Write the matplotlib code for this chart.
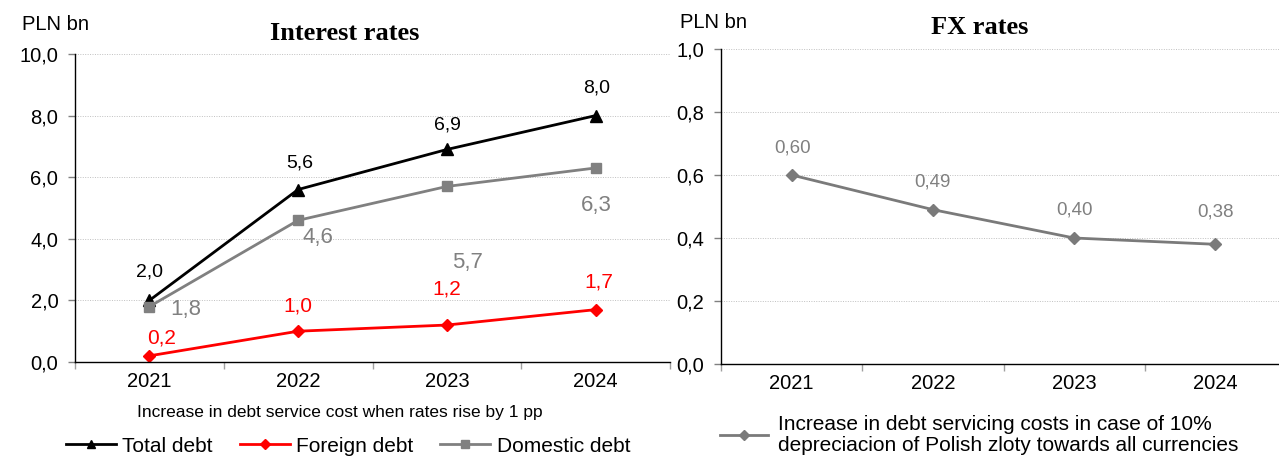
import matplotlib
matplotlib.use("Agg")
import matplotlib.pyplot as plt
from matplotlib import font_manager
from matplotlib.ticker import FixedLocator

# data
years = ["2021", "2022", "2023", "2024"]
total_debt = [2.0, 5.6, 6.9, 8.0]
foreign_debt = [0.2, 1.0, 1.2, 1.7]
domestic_debt = [1.8, 4.6, 5.7, 6.3]
fx_cost = [0.60, 0.49, 0.40, 0.38]

# label offsets in pixels (dx, dy)
total_off = [(0, 28), (2, 27), (1, 24), (1, 28)]
foreign_off = [(12, 18), (0, 25), (0, 36), (3, 28)]
domestic_off = [(36, -3), (20, -17), (21, -76), (1, -38)]
fx_off = [(1, 27), (0, 28), (0, 28), (0, 32)]

installed = {f.name for f in font_manager.fontManager.ttflist}
NARROW = "Liberation Sans Narrow" if "Liberation Sans Narrow" in installed else "Liberation Sans"
SANS = "Liberation Sans"
SERIF = "Liberation Serif"

plt.rcParams["font.family"] = SANS
plt.rcParams["axes.linewidth"] = 1.0

fig = plt.figure(figsize=(12.79, 4.58), dpi=100)
W, H = 1279, 458


def box(x0, x1, ytop, ybot):
    return [x0 / W, 1 - ybot / H, (x1 - x0) / W, (ybot - ytop) / H]


ax1 = fig.add_axes(box(75, 670, 54, 362))
ax2 = fig.add_axes(box(721, 1286, 49, 364))

x = list(range(len(years)))


def style(ax, ymax, step, fmt):
    ax.set_xlim(-0.5, len(years) - 0.5)
    ax.set_ylim(0, ymax)
    ticks = [i * step for i in range(int(round(ymax / step)) + 1)]
    ax.set_yticks(ticks)
    ax.set_yticklabels([fmt.format(t).replace(".", ",") for t in ticks], fontsize=14.5)
    ax.set_xticks(x)
    ax.set_xticklabels(years, fontsize=14.5)
    ax.xaxis.set_minor_locator(FixedLocator([i - 0.5 for i in range(len(years) + 1)]))
    ax.tick_params(axis="x", which="major", length=0, pad=7)
    ax.tick_params(axis="x", which="minor", length=5, color="#a0a0a0", width=1)
    ax.tick_params(axis="y", length=5, color="#808080", width=1, pad=7)
    ax.grid(axis="y", linestyle=(0, (1, 1.5)), color="#c0c0c0", linewidth=0.7)
    ax.set_axisbelow(True)
    for s in ("top", "right"):
        ax.spines[s].set_visible(False)


style(ax1, 10, 2, "{:.1f}")
style(ax2, 1.0, 0.2, "{:.1f}")

# interest rates panel
l_tot, = ax1.plot(x, total_debt, color="black", lw=2, marker="^", ms=8, label="Total debt")
l_for, = ax1.plot(x, foreign_debt, color="red", lw=2, marker="D", ms=6, label="Foreign debt")
l_dom, = ax1.plot(x, domestic_debt, color="#808080", lw=2, marker="s", ms=7, label="Domestic debt")

for xi, v, (dx, dy) in zip(x, total_debt, total_off):
    ax1.annotate(f"{v:.1f}".replace(".", ","), (xi, v), xytext=(dx, dy), textcoords="offset pixels",
                 ha="center", va="center", fontsize=14, family=NARROW, color="black")
for xi, v, (dx, dy) in zip(x, foreign_debt, foreign_off):
    ax1.annotate(f"{v:.1f}".replace(".", ","), (xi, v), xytext=(dx, dy), textcoords="offset pixels",
                 ha="center", va="center", fontsize=15, color="red")
for xi, v, (dx, dy) in zip(x, domestic_debt, domestic_off):
    ax1.annotate(f"{v:.1f}".replace(".", ","), (xi, v), xytext=(dx, dy), textcoords="offset pixels",
                 ha="center", va="center", fontsize=16, color="#808080")

# fx panel
l_fx, = ax2.plot(x, fx_cost, color="#7a7a7a", lw=2, marker="D", ms=6,
                 label="Increase in debt servicing costs in case of 10%\ndepreciacion of Polish zloty towards all currencies")
for xi, v, (dx, dy) in zip(x, fx_cost, fx_off):
    ax2.annotate(f"{v:.2f}".replace(".", ","), (xi, v), xytext=(dx, dy), textcoords="offset pixels",
                 ha="center", va="center", fontsize=13.5, family=NARROW, color="#808080")

# titles and units
fig.text(345 / W, 1 - 33 / H, "Interest rates", ha="center", va="center",
         fontsize=19, fontweight="bold", family=SERIF)
fig.text(980 / W, 1 - 27 / H, "FX rates", ha="center", va="center",
         fontsize=19, fontweight="bold", family=SERIF)
fig.text(22 / W, 1 - 24 / H, "PLN bn", ha="left", va="center", fontsize=14.5, family=NARROW)
fig.text(680 / W, 1 - 23 / H, "PLN bn", ha="left", va="center", fontsize=14.5, family=NARROW)

fig.text(340 / W, 1 - 412 / H, "Increase in debt service cost when rates rise by 1 pp",
         ha="center", va="center", fontsize=12.5, family=NARROW)

fig.legend(handles=[l_tot, l_for, l_dom], loc="center", bbox_to_anchor=(348 / W, 1 - 446 / H),
           ncol=3, frameon=False, fontsize=15, handlelength=2.4, handletextpad=0.3,
           columnspacing=1.3, borderpad=0, markerscale=0.8)
leg = fig.legend(handles=[l_fx], loc="center left", bbox_to_anchor=(710 / W, 1 - 435 / H),
                 frameon=False, fontsize=15, handlelength=2.3, handletextpad=0.45,
                 borderpad=0, markerscale=0.8)
for t in leg.get_texts():
    t.set_linespacing(1.1)

fig.savefig("out.png", dpi=100)
